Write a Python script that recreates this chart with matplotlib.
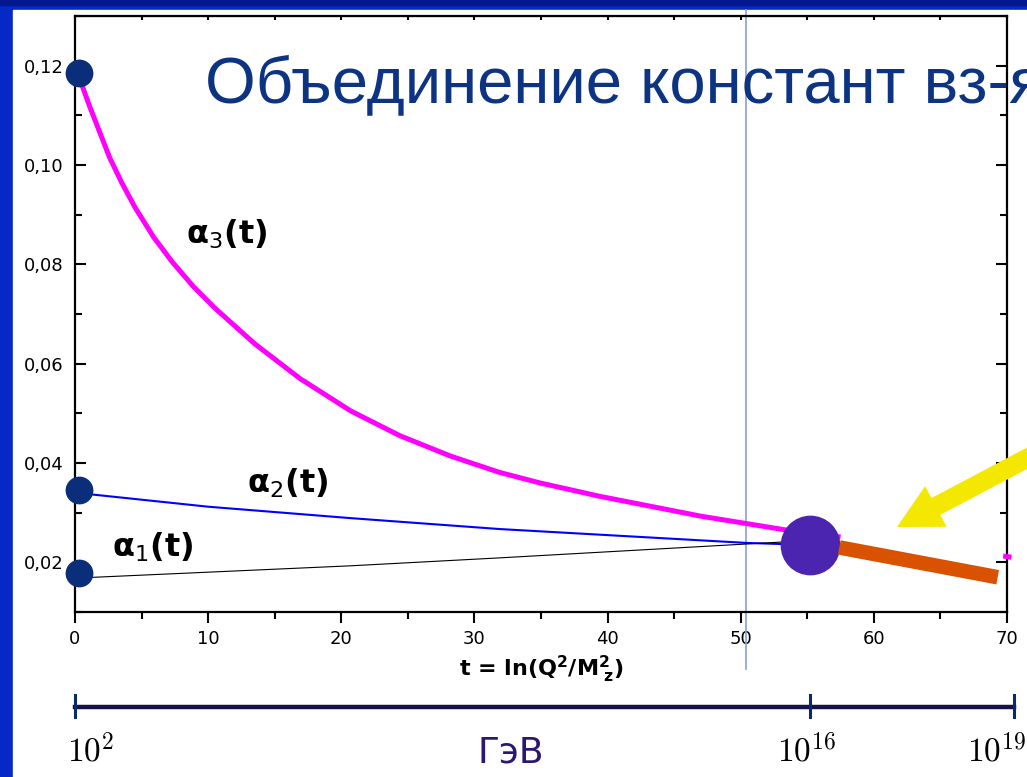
import numpy as np
import matplotlib
matplotlib.use('Agg')
import matplotlib.pyplot as plt
from matplotlib import transforms
from matplotlib.patches import Rectangle, FancyArrow
from matplotlib.ticker import MultipleLocator

#==============================================================================
# Data
#==============================================================================
t_a3 = [0.3, 0.6, 1.1, 2.6, 3.5, 4.5, 5.9, 7.3, 8.9, 10.5, 13.5, 16.9, 20.7,
        24.4, 28.2, 31.9, 34.9, 39.4, 47.0, 53.2, 57.5]
a3 = [0.1180, 0.1155, 0.1118, 0.1015, 0.0965, 0.0915, 0.0855, 0.0805, 0.0755,
      0.0712, 0.0640, 0.0570, 0.0505, 0.0455, 0.0414, 0.0381, 0.0360, 0.0333,
      0.0293, 0.0266, 0.0251]
t_a3_tail = [69.9, 70.15]
a3_tail = [0.0212, 0.0211]

t_a2 = [0.3, 1.5, 10.0, 20.7, 31.9, 50.5, 55.2]
a2 = [0.0339, 0.0336, 0.0312, 0.0289, 0.0267, 0.0239, 0.0235]

t_a1 = [0.3, 1.5, 20.7, 31.9, 50.5, 53.2, 55.2]
a1 = [0.0169, 0.0170, 0.0193, 0.0209, 0.0237, 0.0241, 0.0243]

t_gut = [57.4, 69.3]          # orange segment above unification
a_gut = [0.0230, 0.0170]

t_start = [0.3, 0.3, 0.3]     # measured couplings at t = 0
a_start = [0.1185, 0.0346, 0.0179]
t_unif, a_unif = 55.2, 0.0235  # unification point

vline_t = 50.4
vline_span = [-0.0015, 0.1312]

xticks = [0, 10, 20, 30, 40, 50, 60, 70]
xtick_labels = ['0', '10', '20', '30', '40', '50', '60', '70']
yticks = [0.02, 0.04, 0.06, 0.08, 0.10, 0.12]
ytick_labels = ['0,02', '0,04', '0,06', '0,08', '0,10', '0,12']

# energy scale under the axis
scale_t = [0, 55.2, 70.5]
scale_labels = [r'$10^{2}$', r'$10^{16}$', r'$10^{19}$']
scale_label_t = [-0.6, 52.7, 67.0]

#==============================================================================
# Figure / slide background
#==============================================================================
W, H = 1027, 777
fig = plt.figure(figsize=(W / 100, H / 100), dpi=100)
fig.patch.set_facecolor('#0628c4')
fig.add_artist(Rectangle((0, 1 - 5 / H), 1, 5 / H, transform=fig.transFigure,
                         color='#03188c', zorder=-2))
fig.add_artist(Rectangle((13 / W, 0), 1, (H - 10) / H, transform=fig.transFigure,
                         color='white', zorder=-1))

ax = fig.add_axes([75 / W, 1 - 612 / H, (1007 - 75) / W, (612 - 16) / H])

#==============================================================================
# Curves
#==============================================================================
ax.plot(t_a3, a3, color='#ff00ff', lw=3.6, solid_capstyle='butt',
        solid_joinstyle='round', zorder=3)
ax.plot(t_a3_tail, a3_tail, color='#ff00ff', lw=3.6, clip_on=False, zorder=3)
ax.plot(t_a2, a2, color='#0000ff', lw=1.5, zorder=3)
ax.plot(t_a1, a1, color='black', lw=0.8, zorder=3)
ax.plot([vline_t, vline_t], vline_span, color='#8c9be0', lw=1.2,
        clip_on=False, zorder=2)

ax.plot(t_start, a_start, 'o', color='#0a2e7a', ms=20, mec='none',
        clip_on=False, zorder=5)
ax.plot([t_unif], [a_unif], 'o', color='#4b25b0', ms=43, mec='none', zorder=5)
ax.plot(t_gut, a_gut, color='#d95200', lw=10.5, solid_capstyle='butt', zorder=6)

#==============================================================================
# Axes formatting
#==============================================================================
ax.set_xlim(0, 70)
ax.set_ylim(0.01, 0.13)
ax.set_xticks(xticks)
ax.set_xticklabels(xtick_labels)
ax.set_yticks(yticks)
ax.set_yticklabels(ytick_labels)
ax.xaxis.set_minor_locator(MultipleLocator(5))
ax.yaxis.set_minor_locator(MultipleLocator(0.01))
ax.tick_params(axis='x', which='major', direction='out', length=8, width=1.5,
               labelsize=13, pad=5)
ax.tick_params(axis='x', which='minor', direction='out', length=5, width=1.5)
ax.tick_params(axis='y', which='major', direction='in', length=8, width=1.5,
               left=True, right=True, labelsize=13, pad=8)
ax.tick_params(axis='y', which='minor', direction='in', length=5, width=1.5,
               left=True, right=True)
for sp in ax.spines.values():
    sp.set_linewidth(1.6)
top = ax.secondary_xaxis('top')
top.set_xticks(np.arange(0, 71, 5))
top.tick_params(direction='in', length=3, width=1.5, labeltop=False)

ax.set_xlabel(r't = ln(Q$^{\mathbf{2}}$/M$^{\mathbf{2}}_{\ \mathbf{z}}$)',
              fontsize=16, fontweight='bold', labelpad=4)

ax.text(8.3, 0.0841, r'$\mathbf{\alpha}_3\mathbf{(t)}$', fontsize=23, va='baseline')
ax.text(12.9, 0.0340, r'$\mathbf{\alpha}_2\mathbf{(t)}$', fontsize=23, va='baseline')
ax.text(2.8, 0.0211, r'$\mathbf{\alpha}_1\mathbf{(t)}$', fontsize=23, va='baseline')

fig.text(205 / W, 1 - 102 / H, 'Объединение констант вз-я', fontsize=47,
         family='Liberation Sans', color='#0d3482', va='baseline', ha='left')

#==============================================================================
# Energy scale bar
#==============================================================================
bt = transforms.blended_transform_factory(ax.transData, ax.transAxes)
ax.plot([scale_t[0], scale_t[-1]], [-0.1594, -0.1594], color='#15124c', lw=3.2,
        transform=bt, clip_on=False)
for st in scale_t:
    ax.plot([st, st], [-0.1393, -0.1762], color='#0a2a6a', lw=2.2,
            transform=bt, clip_on=False)
for lt, lab in zip(scale_label_t, scale_labels):
    ax.text(lt, -0.2517, lab, transform=bt, fontsize=24, va='baseline',
            ha='left', math_fontfamily='cm')
ax.text(32.7, -0.2517, 'ГэВ', transform=bt, fontsize=26, va='baseline',
        ha='center', color='#2b1670')

#==============================================================================
# Yellow arrow
#==============================================================================
fig.add_artist(FancyArrow(1056, H - 443, -159, -84, width=19, head_width=46,
                          head_length=44, length_includes_head=True,
                          color='#f4e800', lw=0,
                          transform=transforms.IdentityTransform(), zorder=10))

fig.savefig('out.png', dpi=100)
